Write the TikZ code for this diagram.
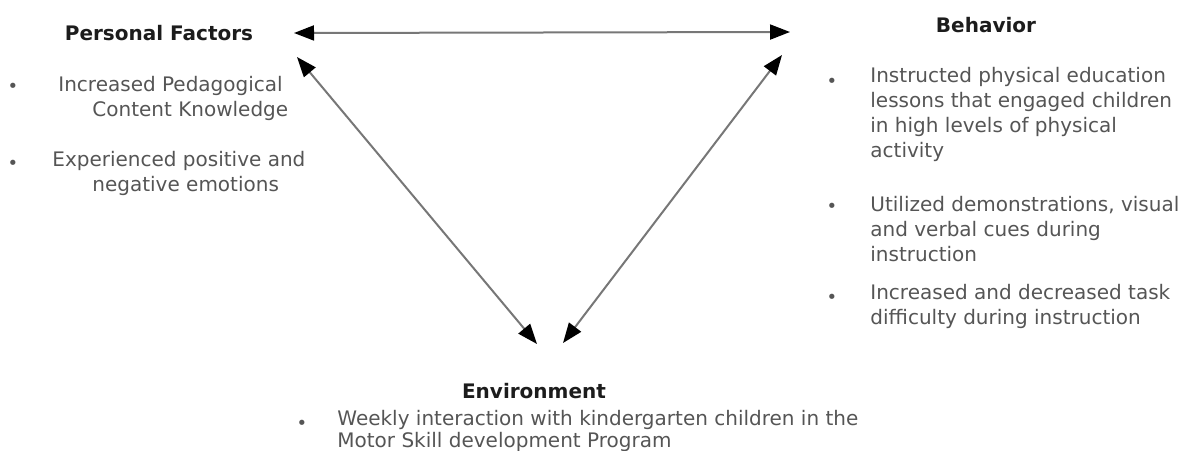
\documentclass[tikz,border=0pt]{standalone}
\usepackage{fontspec}
\setmainfont{DejaVu Sans}
\usepackage{tikz}
\usetikzlibrary{arrows.meta,positioning,calc}
\definecolor{HeadInk}{HTML}{1C1C1C}
\definecolor{BodyInk}{HTML}{555555}
\definecolor{LinkGray}{HTML}{777777}

\begin{document}
\begin{tikzpicture}[x=.5pt,y=-.5pt,
    head/.style={font=\fontsize{10}{12}\selectfont\bfseries,text=HeadInk,inner sep=0pt},
    body/.style={font=\fontsize{10}{12.5}\selectfont,text=BodyInk,inner sep=0pt},
    dot/.style={font=\fontsize{9}{10}\selectfont,text=BodyInk,inner sep=0pt},
    link/.style={draw=LinkGray,line width=1pt,
      {Triangle[length=10pt,width=7.5pt,color=black]}-{Triangle[length=10pt,width=7.5pt,color=black]}}]
  \useasboundingbox (0,0) rectangle (1192,450);
  % the three factors
  \node[head] (pf)  at (159,33)  {Personal Factors};
  \node[head] (beh) at (986,25)  {Behavior};
  \node[head] (env) at (534,391) {Environment};
  % personal factors
  \node[dot]  (pfb1) at (13,88)  {\textbullet};
  \node[body,align=left,anchor=west] (pft1) at (58,98.5)
    {Increased Pedagogical\\\hspace*{17pt}Content Knowledge};
  \node[dot]  (pfb2) at (13,165) {\textbullet};
  \node[body,align=left,anchor=west] (pft2) at (52,173.5)
    {Experienced positive and\\\hspace*{20pt}negative emotions};
  % behavior
  \node[dot]  (bb1) at (832,83)  {\textbullet};
  \node[body,align=left,anchor=west] (bt1) at (870,114.5)
    {Instructed physical education\\lessons that engaged children\\in high levels of physical\\activity};
  \node[dot]  (bb2) at (832,208) {\textbullet};
  \node[body,align=left,anchor=west] (bt2) at (870,229)
    {Utilized demonstrations, visual\\and verbal cues during\\instruction};
  \node[dot]  (bb3) at (832,299) {\textbullet};
  \node[body,align=left,anchor=west] (bt3) at (870,306)
    {Increased and decreased task\\difficulty during instruction};
  % environment
  \node[dot]  (eb1) at (302,425) {\textbullet};
  \node[body,align=left,anchor=west,font=\fontsize{10}{10.8}\selectfont] (et1) at (337,431)
    {Weekly interaction with kindergarten children in the\\Motor Skill development Program};
  % arrow ends
  \coordinate (pf-r)  at (294,33);
  \coordinate (beh-l) at (790,32);
  \coordinate (pf-d)  at (297,57);
  \coordinate (env-l) at (537,344);
  \coordinate (env-r) at (563,343);
  \coordinate (beh-d) at (782,55);
  \draw[link] (pf-r) -- (beh-l);
  \draw[link] (pf-d) -- (env-l);
  \draw[link] (env-r) -- (beh-d);
\end{tikzpicture}
\end{document}
